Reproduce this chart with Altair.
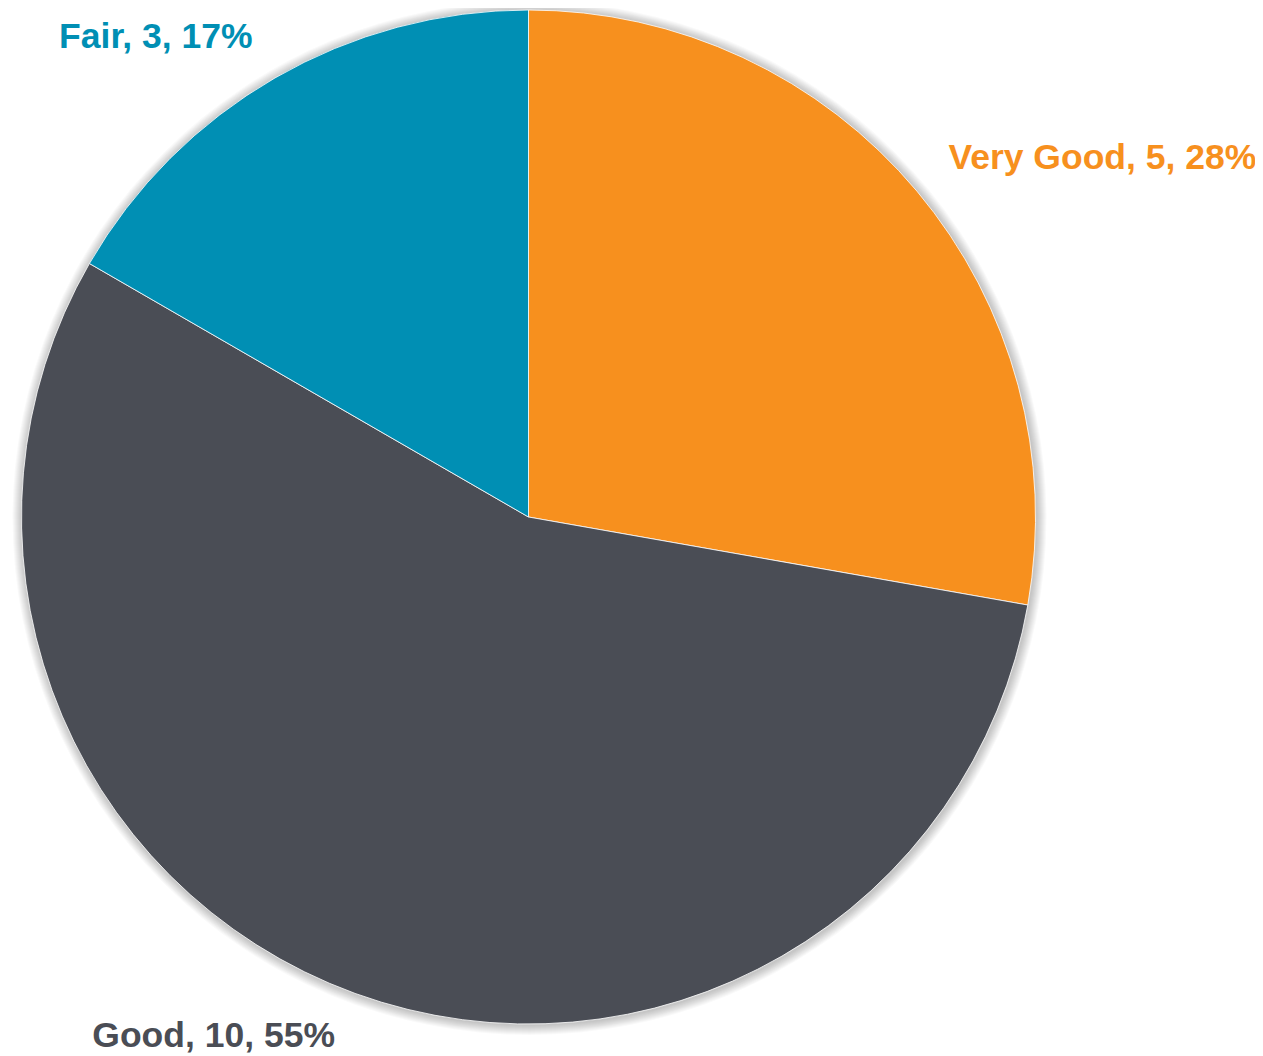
import math
import altair as alt
import pandas as pd

categories = ["Very Good", "Good", "Fair"]
counts = [5, 10, 3]
percents = ["28%", "55%", "17%"]
slice_order = [0, 1, 2]
colors = ["#F7901E", "#4A4D55", "#008FB4"]

total = sum(counts)
df = pd.DataFrame({"category": categories, "count": counts, "pct": percents, "order": slice_order})
df["label"] = df["category"] + ", " + df["count"].astype(str) + ", " + df["pct"]

CX, CY = 520.5, 509
R = 507
LABEL_R = 560
FONT = "Liberation Sans"

theta_scale = alt.Scale(domain=[0, total], range=[0, 2 * math.pi])
color_scale = alt.Scale(domain=categories, range=colors)

base = (
    alt.Chart(df)
    .transform_stack(stack="count", as_=["start", "end"], groupby=[],
                     sort=[alt.SortField("order", order="ascending")])
    .transform_calculate(mid="(datum.start + datum.end) / 2")
)

# soft shadow glow behind the pie
shadow_layers = []
for k in range(1, 11):
    shadow_layers.append(
        alt.Chart(pd.DataFrame({"s": [1]}))
        .mark_arc(theta=0, theta2=2 * math.pi, radius=R + k, color="black", opacity=0.025)
        .encode(x=alt.value(CX + 1), y=alt.value(CY + 1))
    )

arcs = base.mark_arc(radius=R, stroke="white", strokeWidth=0.8).encode(
    x=alt.value(CX),
    y=alt.value(CY),
    theta=alt.Theta("start:Q", scale=theta_scale),
    theta2="end:Q",
    color=alt.Color("category:N", scale=color_scale, legend=None),
)

label_style = {
    "Very Good": dict(align="left", dx=-9, dy=12),
    "Good": dict(align="right", dx=-2, dy=4),
    "Fair": dict(align="right", dx=4, dy=16),
}

text_layers = []
for cat, col in zip(categories, colors):
    st = label_style[cat]
    text_layers.append(
        base.transform_filter(alt.datum.category == cat)
        .mark_text(radius=LABEL_R, baseline="alphabetic", fontSize=35.5, fontWeight="bold",
                   font=FONT, color=col, **st)
        .encode(
            x=alt.value(CX),
            y=alt.value(CY),
            theta=alt.Theta("mid:Q", scale=theta_scale),
            text="label:N",
        )
    )

chart = (
    alt.layer(*shadow_layers, arcs, *text_layers)
    .properties(width=1247, height=1048, autosize="none", padding=0)
    .configure_view(stroke=None)
)

chart.save("out.html", embed_options={"renderer": "svg", "actions": False})
